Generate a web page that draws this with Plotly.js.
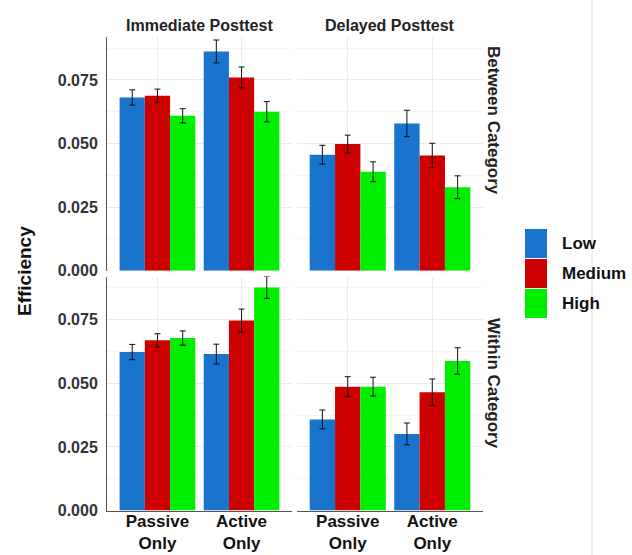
<!DOCTYPE html>
<html>
<head>
<meta charset="utf-8">
<script src="https://cdn.plot.ly/plotly-3.0.1.min.js"></script>
<style>html,body{margin:0;padding:0;background:#fff;}#chart{width:632px;height:555px;}</style>
</head>
<body>
<div id="chart"></div>
<script>
// ---- data ----
const categories = ['Passive<br>Only', 'Active<br>Only'];
const levels = ['Low', 'Medium', 'High'];
const colors = ['#1874CD', '#CD0000', '#00EE00'];
const columnTitles = ['Immediate Posttest', 'Delayed Posttest'];
const rowTitles = ['Between Category', 'Within Category'];
const yTicks = [0, 0.025, 0.05, 0.075];
const yTickText = ['0.000', '0.025', '0.050', '0.075'];

// values per level [Low, Medium, High], each [Passive Only, Active Only]
const immBetween = [[0.0681, 0.0862], [0.0688, 0.0760], [0.0609, 0.0625]];
const immBetweenErr = [[0.0030, 0.0045], [0.0026, 0.0041], [0.0028, 0.0040]];
const delBetween = [[0.0456, 0.0579], [0.0498, 0.0453], [0.0389, 0.0328]];
const delBetweenErr = [[0.0037, 0.0052], [0.0035, 0.0048], [0.0039, 0.0045]];
const immWithin = [[0.0623, 0.0615], [0.0669, 0.0747], [0.0678, 0.0877]];
const immWithinErr = [[0.0030, 0.0039], [0.0026, 0.0045], [0.0028, 0.0043]];
const delWithin = [[0.0358, 0.0301], [0.0487, 0.0465], [0.0487, 0.0588]];
const delWithinErr = [[0.0037, 0.0043], [0.0039, 0.0052], [0.0037, 0.0052]];

// ---- build ----
const panels = [
  {vals: immBetween, errs: immBetweenErr, xa: 'x', ya: 'y'},
  {vals: delBetween, errs: delBetweenErr, xa: 'x2', ya: 'y'},
  {vals: immWithin, errs: immWithinErr, xa: 'x3', ya: 'y2'},
  {vals: delWithin, errs: delWithinErr, xa: 'x4', ya: 'y2'}
];
const traces = [];
panels.forEach((p, pi) => {
  levels.forEach((lv, li) => {
    traces.push({
      type: 'bar', name: lv, x: categories, y: p.vals[li],
      xaxis: p.xa, yaxis: p.ya, offsetgroup: String(li), legendgroup: lv,
      showlegend: false,
      marker: {color: colors[li], line: {width: 0}},
      error_y: {type: 'data', array: p.errs[li], color: '#111', thickness: 1, width: 3},
      hoverinfo: 'x+y+name'
    });
  });
});

const W = 632, H = 555;
const px = v => v / W, py = v => (H - v) / H;
const tickFont = {family: 'Liberation Sans, Arial, sans-serif', size: 16, color: '#333', weight: 'bold'};
const gridC = '#ebebeb', minorC = '#f5f5f5';

function xAxis(domain, anchor, showLabels) {
  return {
    domain: domain, anchor: anchor, type: 'category', categoryorder: 'array', categoryarray: categories,
    range: [-0.6, 1.6], showgrid: true, gridcolor: gridC, gridwidth: 1,
    showticklabels: showLabels, ticks: '', tickfont: {family: 'Liberation Sans, Arial, sans-serif', size: 17, color: '#111', weight: 'bold'},
    showline: showLabels, linecolor: '#555', linewidth: 1, zeroline: false, fixedrange: true, ticklabelstandoff: -5
  };
}
function yAxis(domain, anchor) {
  return {
    domain: domain, anchor: anchor, range: [0, 0.092], tickvals: yTicks, ticktext: yTickText,
    showgrid: true, gridcolor: gridC, gridwidth: 1,
    minor: {dtick: 0.0125, tick0: 0.0125, showgrid: true, gridcolor: minorC, gridwidth: 1, ticks: ''},
    ticks: '', tickfont: tickFont, showline: true, linecolor: '#555', linewidth: 1,
    zeroline: false, fixedrange: true, ticklabelstandoff: 5
  };
}

const xdL = [px(107), px(292)], xdR = [px(297), px(483)];
const ydT = [py(270.7), py(36.7)], ydB = [py(510.5), py(276.5)];

const annFont = {family: 'Liberation Sans, Arial, sans-serif', size: 16, color: '#222', weight: 'bold'};
const annotations = [
  {text: columnTitles[0], x: px(199.5), y: py(26), xref: 'paper', yref: 'paper', showarrow: false, font: annFont, xanchor: 'center', yanchor: 'middle'},
  {text: columnTitles[1], x: px(390), y: py(26), xref: 'paper', yref: 'paper', showarrow: false, font: annFont, xanchor: 'center', yanchor: 'middle'},
  {text: rowTitles[0], x: px(494), y: py(121), xref: 'paper', yref: 'paper', showarrow: false, font: Object.assign({}, annFont, {size: 17}), textangle: 90, xanchor: 'center', yanchor: 'middle'},
  {text: rowTitles[1], x: px(494), y: py(384), xref: 'paper', yref: 'paper', showarrow: false, font: Object.assign({}, annFont, {size: 17}), textangle: 90, xanchor: 'center', yanchor: 'middle'},
  {text: 'Efficiency', x: px(24), y: py(271), xref: 'paper', yref: 'paper', showarrow: false, font: Object.assign({}, annFont, {size: 19, color: '#111'}), textangle: -90, xanchor: 'center', yanchor: 'middle'}
];
const shapes = [
  {type: 'line', xref: 'paper', yref: 'paper', x0: px(592), x1: px(592), y0: 0, y1: 1, line: {color: '#e3e3e3', width: 1}}
];
// legend (swatches + labels)
const legTop = 228.5, legH = 30;
levels.forEach((lv, i) => {
  const y0 = legTop + i * legH;
  shapes.push({type: 'rect', xref: 'paper', yref: 'paper', x0: px(525), x1: px(547), y0: py(y0 + legH - 0.5), y1: py(y0 + 0.5), fillcolor: colors[i], line: {width: 0}});
  annotations.push({text: lv, x: px(560), y: py(y0 + legH / 2), xref: 'paper', yref: 'paper', showarrow: false, xanchor: 'left', yanchor: 'middle', font: Object.assign({}, annFont, {size: 17, color: '#111'})});
});

const layout = {
  width: W, height: H, margin: {l: 0, r: 0, t: 0, b: 0},
  paper_bgcolor: '#fff', plot_bgcolor: 'rgba(0,0,0,0)',
  barmode: 'group', bargap: 0.1, bargroupgap: 0, showlegend: false,
  xaxis: xAxis(xdL, 'y', false),
  xaxis2: xAxis(xdR, 'y', false),
  xaxis3: xAxis(xdL, 'y2', true),
  xaxis4: xAxis(xdR, 'y2', true),
  yaxis: yAxis(ydT, 'x'),
  yaxis2: yAxis(ydB, 'x3'),
  annotations: annotations, shapes: shapes
};
Plotly.newPlot('chart', traces, layout, {displayModeBar: false, staticPlot: true});
</script>
</body>
</html>
